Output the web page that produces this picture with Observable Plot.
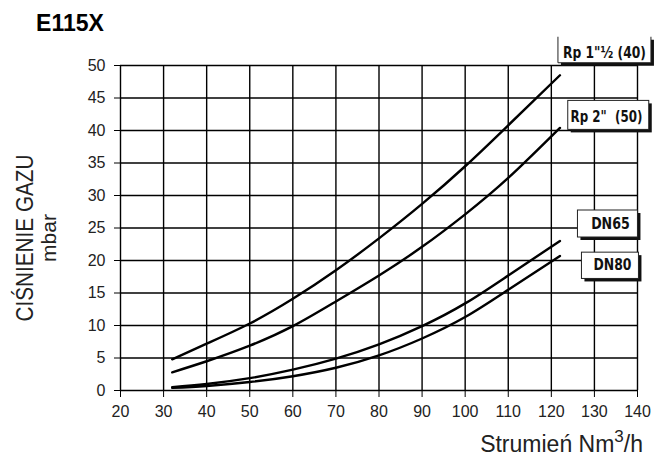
<!DOCTYPE html>
<html><head><meta charset="utf-8">
<script src="https://cdn.jsdelivr.net/npm/d3@7"></script>
<script src="https://cdn.jsdelivr.net/npm/@observablehq/plot@0.6"></script>
<style>body{margin:0;background:#fff} #chart{width:654px;height:457px}</style>
</head><body><div id="chart"></div>
<script>
// Data
const flow = [32, 40, 50, 60, 70, 80, 90, 100, 110, 122];
const rp40 = [4.8, 7.2, 10.3, 14.1, 18.5, 23.4, 28.7, 34.5, 40.8, 48.5];
const rp50 = [2.8, 4.5, 6.9, 9.9, 13.7, 17.7, 22.1, 27.1, 32.7, 40.4];
const dn65 = [0.5, 1.0, 1.9, 3.2, 4.9, 7.1, 9.9, 13.4, 17.7, 23.0];
const dn80 = [0.4, 0.7, 1.3, 2.2, 3.5, 5.4, 8.0, 11.3, 15.5, 20.7];
const seriesNames = ['Rp 1"½ (40)', 'Rp 2"  (50)', 'DN65', 'DN80'];
const xTicks = [20, 30, 40, 50, 60, 70, 80, 90, 100, 110, 120, 130, 140];
const yTicks = [0, 5, 10, 15, 20, 25, 30, 35, 40, 45, 50];
const title = "E115X";
const yLabel1 = "CIŚNIENIE GAZU";
const yLabel2 = "mbar";

const seriesValues = [rp40, rp50, dn65, dn80];
const rows = seriesNames.flatMap((s, k) => flow.map((q, i) => ({series: s, q, p: seriesValues[k][i]})));

const chart = Plot.plot({
  width: 654, height: 457,
  marginLeft: 120, marginRight: 17, marginTop: 65, marginBottom: 67,
  style: {fontFamily: "'Liberation Sans', Arial, sans-serif", fontSize: "16px", color: "#222", background: "#fff"},
  x: {domain: [20, 140]},
  y: {domain: [0, 50]},
  marks: [
    Plot.gridX(xTicks, {stroke: "#000", strokeOpacity: 1, strokeWidth: 1.4}),
    Plot.gridY(yTicks, {stroke: "#000", strokeOpacity: 1, strokeWidth: 1.4}),
    Plot.axisX(xTicks, {tickSize: 7, tickPadding: 8, label: null, fontSize: 16, stroke: "#000"}),
    Plot.axisY(yTicks, {tickSize: 6, tickPadding: 9, label: null, fontSize: 16, stroke: "#000"}),
    Plot.line(rows, {x: "q", y: "p", z: "series", curve: "natural", stroke: "#000", strokeWidth: 2.4})
  ]
});
document.getElementById("chart").appendChild(chart);

const sx = chart.scale("x"), sy = chart.scale("y");
const svg = d3.select(chart);

// label box styling (offsets from each curve end, in px)
const boxStyle = [
  {dx: 45, dy: -23, box: [-46.5, -15, 46.5, 11], openTop: true, len: 83},
  {dx: 47, dy: -11, box: [-38.7, -16, 42.3, 13], len: 72},
  {dx: 51, dy: -17.5, box: [-33, -13, 27, 14], len: 38.7},
  {dx: 53, dy: 9, box: [-31, -12.3, 26, 14], len: 38}
];
const lab = svg.append("g");
seriesNames.forEach((name, k) => {
  const vals = seriesValues[k];
  const px = sx.apply(flow[flow.length - 1]), py = sy.apply(vals[vals.length - 1]);
  const st = boxStyle[k];
  const cx = px + st.dx, cy = py + st.dy;
  const [l, t, r, b] = st.box;
  const g = lab.append("g");
  g.append("rect").attr("x", cx + l + 3).attr("y", cy + t + 3).attr("width", r - l).attr("height", b - t).attr("fill", "#111");
  if (st.openTop) {
    g.append("rect").attr("x", cx + l).attr("y", cy + t - 10).attr("width", r - l).attr("height", b - t + 10).attr("fill", "#fff");
    g.append("path").attr("d", `M${cx + l},${cy + t}V${cy + b}H${cx + r}V${cy + t}`).attr("fill", "none").attr("stroke", "#222").attr("stroke-width", 1);
  } else {
    g.append("rect").attr("x", cx + l).attr("y", cy + t).attr("width", r - l).attr("height", b - t).attr("fill", "#fff").attr("stroke", "#222").attr("stroke-width", 1);
  }
  const tg = g.append("g");
  const txt = tg.append("text").attr("x", 0).attr("y", 0).attr("dy", "0.36em").attr("text-anchor", "middle")
    .attr("font-family", "'Liberation Sans Narrow', 'DejaVu Sans Condensed', sans-serif").attr("font-weight", "bold")
    .attr("font-size", 16.5).attr("fill", "#111").style("white-space", "pre").text(name);
  const natural = txt.node().getComputedTextLength() || st.len;
  const k2 = Math.min(1, st.len / natural);
  tg.attr("transform", `translate(${cx},${cy}) scale(${k2},1)`);
});

// title and axis labels
svg.append("text").attr("x", 70).attr("y", 30.5).attr("font-size", 23).attr("font-weight", "bold").attr("fill", "#000").text(title);
svg.append("text").attr("transform", "translate(33,238) rotate(-90)").attr("text-anchor", "middle")
  .attr("font-size", 23).attr("textLength", 167).attr("lengthAdjust", "spacingAndGlyphs").attr("fill", "#222").text(yLabel1);
svg.append("text").attr("transform", "translate(56,238) rotate(-90)").attr("text-anchor", "middle")
  .attr("font-size", 21).attr("fill", "#222").text(yLabel2);
const xl = svg.append("text").attr("x", 643).attr("y", 452).attr("text-anchor", "end").attr("font-size", 23).attr("fill", "#222");
xl.append("tspan").text("Strumień Nm");
xl.append("tspan").attr("dy", -10).attr("font-size", 17).text("3");
xl.append("tspan").attr("dy", 10).text("/h");
</script>
</body></html>
